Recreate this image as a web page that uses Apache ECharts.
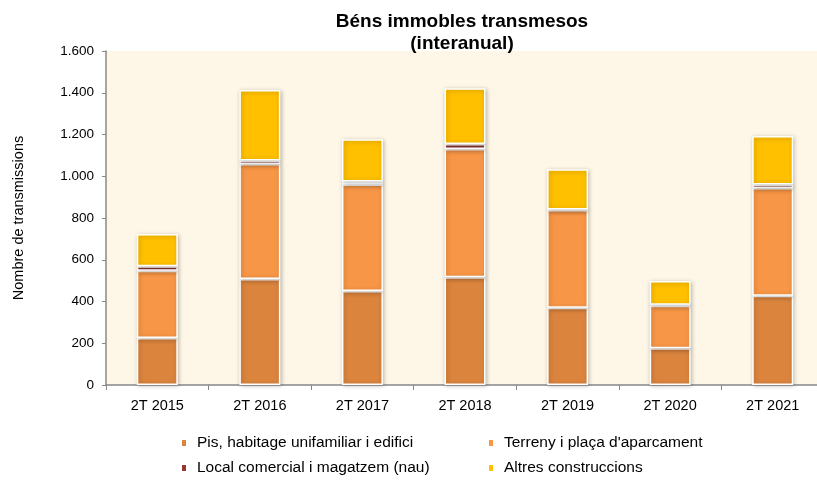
<!DOCTYPE html>
<html>
<head>
<meta charset="utf-8">
<script src="https://cdn.jsdelivr.net/npm/echarts@6/dist/echarts.min.js"></script>
<style>
  html, body { margin: 0; padding: 0; background: #fff; }
  #chart { width: 817px; height: 481px; }
</style>
</head>
<body>
<div id="chart"></div>
<script>
// dades llegides del gràfic
const categories = ['2T 2015', '2T 2016', '2T 2017', '2T 2018', '2T 2019', '2T 2020', '2T 2021']
const pis = [225, 508, 450, 516, 370, 176, 428]
const terreny = [322, 551, 511, 614, 468, 204, 516]
const local = [22, 16, 14, 24, 3, 4, 16]
const altres = [154, 338, 202, 267, 192, 114, 233]
const yTicks = [0, 200, 400, 600, 800, 1000, 1200, 1400, 1600]

const chart = echarts.init(document.getElementById('chart'))

const barStyle = color => ({
  color: color,
  borderColor: '#ffffff',
  borderWidth: 1.5,
  shadowBlur: 4,
  shadowColor: 'rgba(0,0,0,0.25)',
  shadowOffsetX: 1,
  shadowOffsetY: 1
})

function serie(name, data, color) {
  return {
    name: name,
    type: 'bar',
    stack: 'total',
    barWidth: 41,
    data: data,
    itemStyle: barStyle(color)
  }
}

const legendText = { fontSize: 15.5, color: '#000', padding: [0, 0, 0, 5] }

const option = {
  animation: false,
  textStyle: { fontFamily: 'Liberation Sans, Arial, sans-serif' },
  title: {
    text: 'Béns immobles transmesos\n(interanual)',
    left: 457,
    textAlign: 'center',
    top: 6,
    textStyle: { fontSize: 19, fontWeight: 'bold', color: '#000', lineHeight: 22 }
  },
  grid: {
    left: 106,
    width: 718,
    top: 51,
    bottom: 96,
    outerBoundsMode: 'none',
    show: true,
    backgroundColor: '#fef7e7',
    borderWidth: 0
  },
  legend: [
    {
      orient: 'vertical',
      left: 175,
      top: 430,
      icon: 'rect',
      itemWidth: 6,
      itemHeight: 8,
      itemGap: 9,
      textStyle: legendText,
      data: ['Pis, habitage unifamiliar i edifici', 'Local comercial i magatzem (nau)']
    },
    {
      orient: 'vertical',
      left: 482,
      top: 430,
      icon: 'rect',
      itemWidth: 6,
      itemHeight: 8,
      itemGap: 9,
      textStyle: legendText,
      data: ["Terreny i plaça d'aparcament", 'Altres construccions']
    }
  ],
  xAxis: {
    type: 'category',
    data: categories,
    axisLine: { lineStyle: { color: '#888', width: 1.5 } },
    axisTick: { show: true, length: 5, lineStyle: { color: '#888' } },
    axisLabel: { fontSize: 14.5, color: '#000', margin: 13 }
  },
  yAxis: {
    type: 'value',
    min: yTicks[0],
    max: yTicks[yTicks.length - 1],
    interval: 200,
    name: 'Nombre de transmissions',
    nameLocation: 'middle',
    nameGap: 80,
    nameTextStyle: { fontSize: 14.5, color: '#000' },
    splitLine: { show: false },
    axisLine: { show: true, lineStyle: { color: '#888', width: 1.5 } },
    axisTick: { show: true, length: 4, lineStyle: { color: '#888' } },
    axisLabel: {
      fontSize: 13.5,
      color: '#000',
      margin: 12,
      formatter: v => v.toString().replace(/\B(?=(\d{3})+(?!\d))/g, '.')
    }
  },
  series: [
    serie('Pis, habitage unifamiliar i edifici', pis, '#db843d'),
    serie("Terreny i plaça d'aparcament", terreny, '#f79646'),
    serie('Local comercial i magatzem (nau)', local, '#953735'),
    serie('Altres construccions', altres, '#ffc000')
  ]
}

chart.setOption(option)
</script>
</body>
</html>
